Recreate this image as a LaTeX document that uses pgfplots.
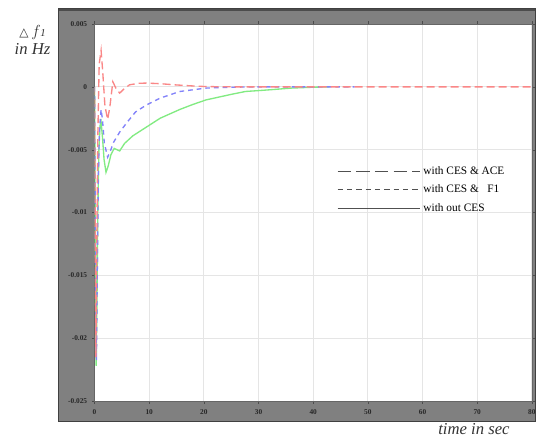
\documentclass[border=0pt]{standalone}
\usepackage{fontspec}
\setmainfont{Liberation Serif}
\newfontfamily\dejavu{DejaVu Sans}
\usepackage{pgfplots}
\pgfplotsset{compat=1.18}
\definecolor{cred}{RGB}{250,135,135}
\definecolor{cblue}{RGB}{130,130,250}
\definecolor{cgreen}{RGB}{130,235,130}
\definecolor{frame}{RGB}{128,128,128}
\definecolor{leg}{RGB}{80,80,80}
\begin{document}
\begin{tikzpicture}[x=1pt,y=1pt]
\useasboundingbox (-70.9,-27) rectangle (331.1,300.75);
\fill[frame,draw=black!75,line width=0.6pt] (-27.4,-15) rectangle (330.6,294.75);
\draw[black!70,line width=1.5pt] (-27,293.6) -- (330.2,293.6);
\begin{axis}[at={(0,0)}, anchor=south west, scale only axis,
  width=328pt, height=282.75pt,
  xmin=0, xmax=80, ymin=-0.025, ymax=0.005,
  scaled y ticks=false, scaled x ticks=false,
  axis background/.style={fill=white},
  axis line style={black!60, line width=0.5pt},
  xtick={0,10,...,80},
  xticklabels={0,10,20,30,40,50,60,70,80},
  ytick={-0.025,-0.02,-0.015,-0.01,-0.005,0,0.005},
  yticklabels={-0.025,-0.02,-0.015,-0.01,-0.005,0,0.005},
  tick label style={font=\fontsize{5.5}{6}\selectfont\bfseries, text=black!85},
  tick align=outside, major tick length=2pt,
  tick style={black!70},
  grid=major, grid style={black!10, line width=0.6pt},
  xticklabel style={yshift=-1pt},
  clip=true,
  legend style={draw=none, fill=none, at={(0.554,0.63)}, anchor=north west,
    font=\fontsize{8.5}{10}\selectfont, row sep=2.5pt, inner sep=0pt},
  legend cell align=left,
  legend image code/.code={\draw[#1] (0pt,0pt) -- (62pt,0pt);},
]
\addlegendimage{leg, line width=0.8pt, dash pattern=on 10pt off 4pt}
\addlegendentry{with CES \& ACE}
\addlegendimage{leg, line width=0.8pt, dash pattern=on 4pt off 3pt}
\addlegendentry{with CES \&\ \ \ F1}
\addlegendimage{leg, line width=0.8pt}
\addlegendentry{with out CES}
% green: with out CES
\addplot[cgreen, line width=1pt, forget plot] coordinates {
(0,0) (0.1,-0.008) (0.2,-0.017) (0.3,-0.0222) (0.45,-0.017) (0.6,-0.010)
(0.8,-0.005) (1.0,-0.0031) (1.2,-0.0028) (1.45,-0.0040) (1.75,-0.0058)
(2.1,-0.0068) (2.5,-0.0063) (3.0,-0.0054) (3.6,-0.0049) (4.1,-0.0050)
(4.6,-0.0051) (5.5,-0.0045) (7,-0.0039) (9.5,-0.0032) (12,-0.0025)
(15.6,-0.0018) (18,-0.0014) (20.4,-0.00104) (25,-0.0006) (27.6,-0.00037)
(30,-0.0003) (32.5,-0.00022) (36,-0.0001) (40,-0.00003) (43,0)
};
% blue: with CES & F1
\addplot[cblue, line width=1pt, dash pattern=on 3.5pt off 3pt, forget plot] coordinates {
(0,0) (0.1,-0.008) (0.2,-0.016) (0.35,-0.0218) (0.5,-0.015) (0.7,-0.007)
(0.9,-0.0035) (1.2,-0.0018) (1.45,-0.0026) (1.8,-0.0045) (2.4,-0.0056)
(2.9,-0.0051) (3.5,-0.0044) (4.6,-0.0036) (6,-0.0028) (7.5,-0.0020)
(9.5,-0.00144) (12,-0.0009) (15.6,-0.00037) (20.4,-0.0001) (25,-0.00003)
(30,0) (47.6,0)
};
% red: with CES & ACE
\addplot[cred, line width=1pt, dash pattern=on 6pt off 3pt, forget plot] coordinates {
(0,0) (0.1,-0.009) (0.25,-0.0215) (0.4,-0.013) (0.6,-0.004) (0.85,0.0018)
(1.2,0.0029) (1.5,0.0012) (1.9,-0.0015) (2.4,-0.0026) (2.8,-0.0016)
(3.35,0.0004) (3.9,-0.0001) (4.6,-0.0005) (5.3,-0.0002) (6.4,0.00016)
(8,0.00028) (9.5,0.0003) (12,0.00025) (15,0.00015) (18,0.00007)
(20.4,0.00002) (25,0) (80,0)
};
\end{axis}
\node[font=\fontsize{12.5}{13}\selectfont\itshape, text=black!80, anchor=center] at (-46.5,276) {{\dejavu\fontsize{9}{10}\selectfont△}\,$f$\kern-0.5pt\fontsize{8}{9}\selectfont 1};
\node[font=\fontsize{12.5}{13}\selectfont\itshape, text=black!80, anchor=center] at (-46.5,264) {in Hz};
\node[font=\fontsize{12.5}{13}\selectfont\itshape, text=black!80, anchor=center] at (284.6,-21) {time in sec};
\end{tikzpicture}
\end{document}
